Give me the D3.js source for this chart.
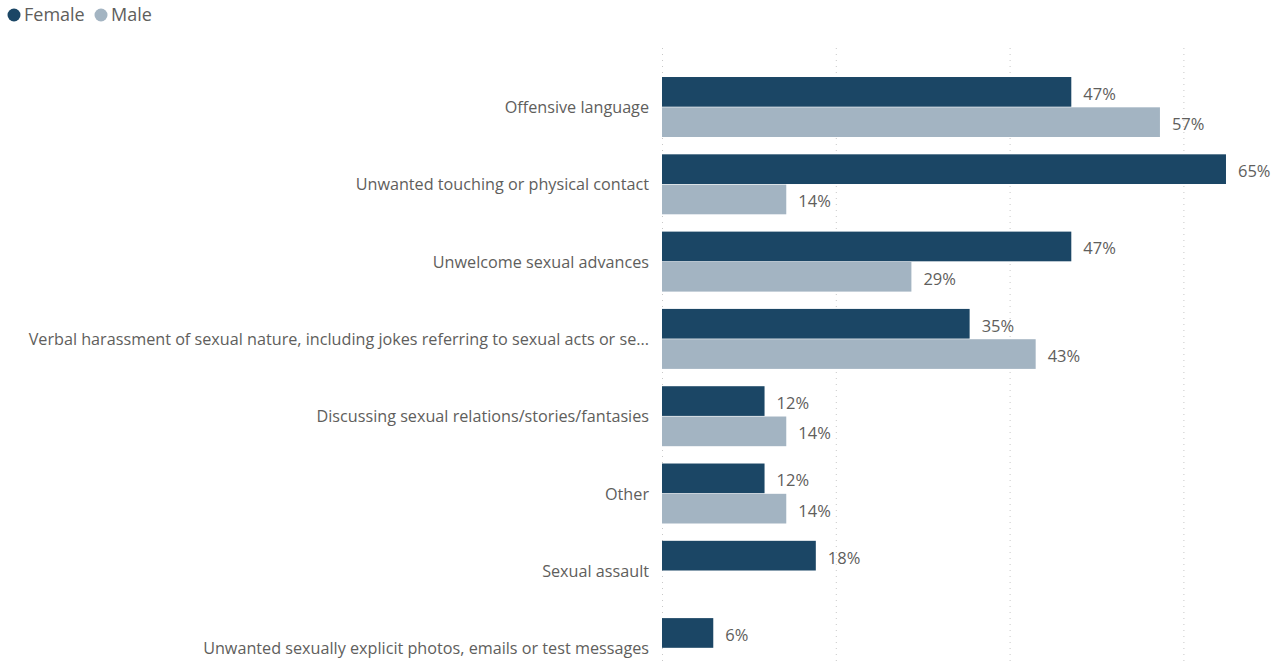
<!DOCTYPE html>
<html>
<head>
<meta charset="utf-8">
<script src="https://cdn.jsdelivr.net/npm/d3@7"></script>
<style>
  html, body { margin: 0; padding: 0; background: #fff; }
  svg { display: block; font-family: "Open Sans", "Noto Sans", sans-serif; }
</style>
</head>
<body>
<svg id="chart" width="1282" height="664"></svg>
<script>
const categories = [
  "Offensive language",
  "Unwanted touching or physical contact",
  "Unwelcome sexual advances",
  "Verbal harassment of sexual nature, including jokes referring to sexual acts or se...",
  "Discussing sexual relations/stories/fantasies",
  "Other",
  "Sexual assault",
  "Unwanted sexually explicit photos, emails or test messages"
];
const seriesNames = ["Female", "Male"];
const femaleValues = [47.1, 64.9, 47.1, 35.4, 11.8, 11.8, 17.7, 5.9];
const maleValues = [57.3, 14.3, 28.7, 43.0, 14.3, 14.3, null, null];
const gridTicks = [0, 20, 40, 60];

const colors = { Female: "#1B4665", Male: "#A3B4C2" };
const textColor = "#605E5C";
const fmt = d3.format(".0f");

const svg = d3.select("#chart");
const W = 1282, H = 664;

const x = d3.scaleLinear().domain([0, 70]).range([662, 662 + 8.69 * 70]);
const y = d3.scaleBand().domain(categories)
  .range([59.7, 59.7 + 77.3 * 8.224]).paddingInner(0.224).paddingOuter(0.224);
const ySub = d3.scaleBand().domain(seriesNames).range([0, y.bandwidth()]).paddingInner(0.02);

// gridlines
const grid = svg.append("g")
  .attr("transform", `translate(0,48)`)
  .call(d3.axisBottom(x).tickValues(gridTicks).tickSize(H - 48).tickFormat(""));
grid.select(".domain").remove();
grid.selectAll(".tick line").attr("stroke", "#C8C8C8").attr("stroke-width", 1).attr("stroke-dasharray", "1,5");

// bars
const rows = categories.map((c, i) => ({ cat: c, Female: femaleValues[i], Male: maleValues[i] }));
const groups = svg.append("g").selectAll("g").data(rows).join("g")
  .attr("transform", d => `translate(0,${y(d.cat)})`);

groups.selectAll("rect").data(d => seriesNames.filter(s => d[s] != null).map(s => ({ s, v: d[s] })))
  .join("rect")
  .attr("x", x(0))
  .attr("y", d => ySub(d.s))
  .attr("width", d => x(d.v) - x(0))
  .attr("height", ySub.bandwidth())
  .attr("fill", d => colors[d.s]);

groups.selectAll("text.val").data(d => seriesNames.filter(s => d[s] != null).map(s => ({ s, v: d[s] })))
  .join("text")
  .attr("class", "val")
  .attr("x", d => x(d.v) + 12)
  .attr("y", d => ySub(d.s) + ySub.bandwidth() / 2 + 3.5)
  .attr("dominant-baseline", "middle")
  .attr("font-size", 16.5)
  .attr("fill", textColor)
  .text(d => fmt(d.v) + "%");

// category axis labels
const yAxis = svg.append("g")
  .attr("transform", `translate(662,1)`)
  .call(d3.axisLeft(y).tickSize(0).tickPadding(13));
yAxis.select(".domain").remove();
yAxis.selectAll("text")
  .attr("font-size", 16.2)
  .attr("fill", textColor)
  .attr("font-family", "'Open Sans', 'Noto Sans', sans-serif")
  .attr("dy", "0.32em")
  .attr("y", 0);

// legend
const legend = svg.append("g");
const legX = [14, 101];
seriesNames.forEach((s, i) => {
  legend.append("circle").attr("cx", legX[i]).attr("cy", 15).attr("r", 6.5).attr("fill", colors[s]);
  legend.append("text").attr("x", legX[i] + 10).attr("y", 15).attr("dy", "0.35em")
    .attr("font-size", 18).attr("fill", textColor).text(s);
});
</script>
</body>
</html>
